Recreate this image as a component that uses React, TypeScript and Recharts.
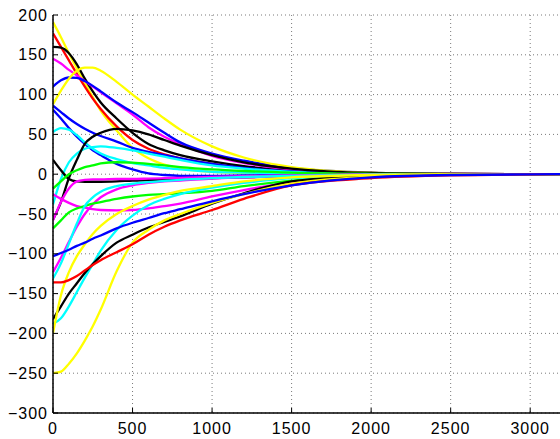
import { LineChart, Line, XAxis, YAxis, CartesianGrid } from "recharts";

// sample positions along the x axis
const xs = [0, 50, 100, 150, 200, 250, 300, 400, 500, 600, 700, 800, 1000, 1200, 1500, 2000, 2500, 3200];

const xTicks = [0, 500, 1000, 1500, 2000, 2500, 3000];
const yTicks = [-300, -250, -200, -150, -100, -50, 0, 50, 100, 150, 200];

// one entry per trajectory, values at the xs above
const y1 = [191, 172, 152, 133, 115, 97, 80, 55, 33, 20, 12, 7, 3, 1.5, 0.5, 0, 0, 0];
const r1 = [177, 160, 143, 126, 110, 95, 82, 60, 43, 32, 25, 20, 13, 8, 4, 1, 0.3, 0];
const k1 = [160, 159, 152, 138, 120, 104, 90, 70, 52, 38, 30, 24, 16, 10, 5, 1, 0.3, 0];
const m1 = [145, 139, 131, 124, 117, 110, 103, 89, 75, 59, 47, 38, 23, 14, 6, 1.5, 0.3, 0];
const b1 = [110, 118, 121.5, 121, 117, 111, 104, 90, 78, 65, 52, 40, 26, 17, 8, 2, 0.5, 0];
const y2 = [88, 105, 120, 130, 134, 134, 130, 116, 100, 85, 70, 56, 35, 21, 9, 2, 0.5, 0];
const b2 = [86, 78, 70, 63, 57, 52, 48, 41, 33, 28, 24, 20, 13, 8, 3.5, 0.5, 0, 0];
const b3 = [81, 70, 58, 47, 38, 30, 24, 13, 6, 1, -1, -2, -2, -1.5, -1, 0, 0, 0];
const c1 = [53, 58, 56, 49, 40, 32, 26, 19, 14, 11, 8, 6, 3, 2, 1, 0, 0, 0];
const c2 = [-38, -6, 15, 26, 32, 34, 35, 33, 30, 26, 22, 18, 11, 7, 3, 0.5, 0, 0];
const k2 = [-57, -35, -5, 18, 38, 47, 52, 57, 55, 50, 43, 36, 24, 15, 7, 1.5, 0.3, 0];
const k3 = [18, 5, -6, -9, -9.5, -9.5, -9.5, -9, -8, -7.5, -7, -6, -5, -4, -2, -0.5, 0, 0];
const g1 = [-18, -9, 0, 5, 9, 11, 13.5, 15, 14.5, 13, 11, 9, 6, 4, 2, 0.5, 0, 0];
const m2 = [-25, -31, -36, -40, -42, -44, -45, -45.5, -45, -43, -40, -37, -28, -20, -10, -2.5, -0.5, 0];
const m3 = [-58, -35, -18, -9, -7, -6.5, -6.5, -6, -6, -5.5, -5, -4.5, -3.5, -2.5, -1.5, -0.3, 0, 0];
const m4 = [-123, -105, -85, -66, -50, -38, -29, -19, -14, -11, -9, -8, -5.5, -4, -2, -0.5, 0, 0];
const g2 = [-68, -58, -48, -43, -40, -37, -35, -31, -28, -26, -25, -24, -21, -15, -8, -2, -0.5, 0];
const c3 = [-188, -181, -166, -148, -130, -113, -96, -70, -52, -39, -31, -25, -17, -11, -5, -1, 0, 0];
const c4 = [-131, -112, -87, -62, -40, -29, -22, -15, -12, -10, -8.5, -7, -5, -3.5, -2, -0.5, 0, 0];
const k4 = [-182, -166, -150, -137, -124, -113, -103, -86, -76, -67, -60, -53, -37, -24, -9, -2, 0, 0];
const y3 = [-200, -152, -123, -103, -88, -75, -65, -50, -40, -32, -26, -21, -15, -9, -4, -1, 0, 0];
const y4 = [-250, -248, -238, -225, -209, -191, -170, -122, -86, -70, -58, -50, -36, -25, -12, -3, -0.5, 0];
const r2 = [-136, -136, -133, -128, -121, -114, -108, -98, -88, -76, -66, -58, -45, -31, -14, -5, -1.5, 0];
const b4 = [-103, -99, -95, -90, -86, -81, -77, -68, -61, -55, -49, -44, -34, -25, -14, -4, -1, 0];

const series = [
  { key: "y1", values: y1, color: "#ffff00" },
  { key: "r1", values: r1, color: "#ff0000" },
  { key: "k1", values: k1, color: "#000000" },
  { key: "m1", values: m1, color: "#ff00ff" },
  { key: "b1", values: b1, color: "#0000ff" },
  { key: "y2", values: y2, color: "#ffff00" },
  { key: "b2", values: b2, color: "#0000ff" },
  { key: "b3", values: b3, color: "#0000ff" },
  { key: "c1", values: c1, color: "#00ffff" },
  { key: "c2", values: c2, color: "#00ffff" },
  { key: "k2", values: k2, color: "#000000" },
  { key: "k3", values: k3, color: "#000000" },
  { key: "g1", values: g1, color: "#00ff00" },
  { key: "m2", values: m2, color: "#ff00ff" },
  { key: "m3", values: m3, color: "#ff00ff" },
  { key: "m4", values: m4, color: "#ff00ff" },
  { key: "g2", values: g2, color: "#00ff00" },
  { key: "c3", values: c3, color: "#00ffff" },
  { key: "c4", values: c4, color: "#00ffff" },
  { key: "k4", values: k4, color: "#000000" },
  { key: "y3", values: y3, color: "#ffff00" },
  { key: "y4", values: y4, color: "#ffff00" },
  { key: "r2", values: r2, color: "#ff0000" },
  { key: "b4", values: b4, color: "#0000ff" },
];

const data = xs.map((x, i) => {
  const row: Record<string, number> = { x };
  series.forEach((s) => {
    row[s.key] = s.values[i];
  });
  return row;
});

const fmt = (v: number) => String(v).replace("-", "\u2212");

const tickFont = {
  fontFamily: "'Liberation Sans', Arial, Helvetica, sans-serif",
  fontSize: 16,
  fill: "#000",
  letterSpacing: 1,
};

const axisLine = { stroke: "#000", strokeWidth: 1.5 };

export default function App() {
  return (
    <div
      style={{
        position: "absolute",
        left: 0,
        top: 0,
        width: 560,
        height: 439,
        overflow: "hidden",
        background: "#fff",
      }}
    >
      <LineChart width={562} height={439} data={data} margin={{ top: 15, right: 0, bottom: 0, left: 0 }}>
        <CartesianGrid stroke="#7a7a7a" strokeDasharray="1 3" />
        {series.map((s) => (
          <Line
            key={s.key}
            dataKey={s.key}
            type="monotone"
            stroke={s.color}
            strokeWidth={2.3}
            dot={false}
            isAnimationActive={false}
          />
        ))}
        <XAxis
          dataKey="x"
          type="number"
          domain={[0, 3200]}
          ticks={xTicks}
          height={26}
          stroke="#000"
          axisLine={axisLine}
          tickSize={-5}
          tickMargin={15}
          tick={tickFont}
          allowDataOverflow
        />
        <XAxis
          xAxisId="top"
          orientation="top"
          dataKey="x"
          type="number"
          domain={[0, 3200]}
          ticks={xTicks}
          height={0}
          stroke="#000"
          axisLine={axisLine}
          tickSize={-5}
          tick={false}
        />
        <YAxis
          type="number"
          domain={[-300, 200]}
          ticks={yTicks}
          width={53}
          stroke="#000"
          axisLine={axisLine}
          tickSize={-5}
          tickMargin={10}
          tick={tickFont}
          tickFormatter={fmt}
          allowDataOverflow
        />
        <YAxis
          yAxisId="right"
          orientation="right"
          type="number"
          domain={[-300, 200]}
          ticks={yTicks}
          width={0}
          stroke="#000"
          axisLine={axisLine}
          tickSize={-5}
          tick={false}
        />
      </LineChart>
    </div>
  );
}
